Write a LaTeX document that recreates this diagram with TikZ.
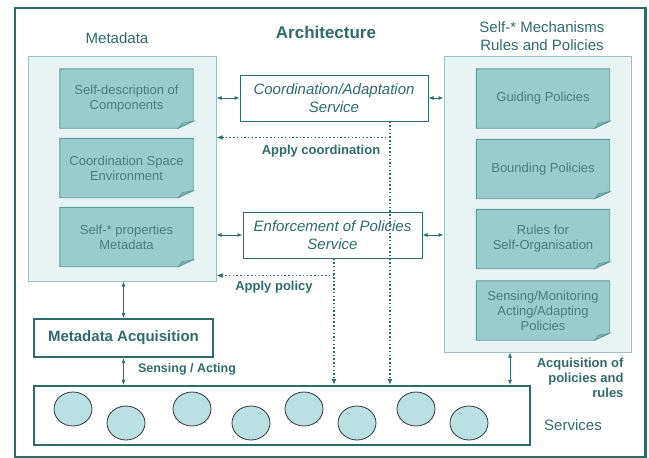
\documentclass[tikz,border=0pt]{standalone}
\usepackage{fontspec}
\setmainfont{Liberation Sans}
\usepackage{xcolor}
\usepackage{tikz}
\usetikzlibrary{arrows.meta}
\usetikzlibrary{calc}

\definecolor{tealdark}{HTML}{2E6B6B}
\definecolor{panelfill}{HTML}{E8F4F4}
\definecolor{panelline}{HTML}{9DC0C0}
\definecolor{notefill}{HTML}{99CCCC}
\definecolor{noteline}{HTML}{5E9A9A}
\definecolor{notefold}{HTML}{7FB0B0}
\definecolor{notetext}{HTML}{4B7E7E}
\definecolor{servfill}{HTML}{B9E0E3}

\tikzset{
  panel/.style={draw=panelline,fill=panelfill,line width=1pt,inner sep=0pt},
  notebox/.style={minimum width=133pt,minimum height=59pt,inner sep=0pt},
  notelabel/.style={text=notetext,align=center,font=\fontsize{13}{15}\selectfont},
  title/.style={text=tealdark,align=center,font=\fontsize{15}{18}\selectfont},
  servicebox/.style={draw=tealdark,fill=white,line width=1pt,inner sep=0pt,align=center,
    text=tealdark,font=\fontsize{15}{18}\selectfont\itshape},
  thickbox/.style={draw=tealdark,line width=2.2pt,inner sep=0pt},
  boldlabel/.style={text=tealdark,font=\fontsize{13}{15}\selectfont\bfseries},
  link/.style={tealdark,line width=0.8pt,{Latex[length=5pt,width=4pt]}-{Latex[length=5pt,width=4pt]}},
  apply/.style={tealdark,line width=1.7pt,dash pattern=on 1.5pt off 2.2pt,-{Latex[length=6pt,width=5pt]}},
  bubble/.style={draw=black!80,fill=servfill,line width=0.8pt}
}

% sheet with a dog-eared bottom right corner
\newcommand{\sheet}[3]{%
  \node[notebox] (#1) at (#2) {};
  \draw[noteline,fill=notefill,line width=0.9pt] (#1.north west) -- (#1.north east)
    -- ([yshift=7pt]#1.south east) -- ([xshift=-15pt]#1.south east) -- (#1.south west) -- cycle;
  \draw[noteline,fill=notefold,line width=0.6pt] ([yshift=7pt]#1.south east)
    -- ([xshift=-15pt]#1.south east) -- ([xshift=-11pt,yshift=5pt]#1.south east) -- cycle;
  \node[notelabel] at (#1.center) {#3};
}

\begin{document}
\begin{tikzpicture}[x=1pt,y=-1pt]
  \useasboundingbox (0,0) rectangle (649,458);
  \draw[tealdark,line width=2.5pt] (15,8) rectangle (645.5,457);

  \node[title,font=\fontsize{17}{20}\selectfont\bfseries] (arch) at (326,32) {Architecture};
  \node[title] (metatitle) at (117,38) {Metadata};
  \node[title] (mechtitle) at (542,36) {Self-* Mechanisms\\Rules and Policies};

  % the two store panels
  \node[panel,minimum width=188pt,minimum height=225pt] (meta) at (122,168.5) {};
  \node[panel,minimum width=187pt,minimum height=296pt] (mech) at (537.5,204) {};

  \sheet{sd}{126.5,98.5}{Self-description of\\Components}
  \sheet{cs}{126.5,168}{Coordination Space\\Environment}
  \sheet{sp}{126.5,237}{Self-* properties\\Metadata}

  \sheet{gp}{543,98.5}{Guiding Policies}
  \sheet{bp}{543,169}{Bounding Policies}
  \sheet{rs}{543,239}{Rules for\\Self-Organisation}
  \sheet{sm}{543,310.5}{Sensing/Monitoring\\Acting/Adapting\\Policies}

  \node[servicebox,minimum width=188pt,minimum height=46pt] (coord) at (334,98) {Coordination/Adaptation\\Service};
  \node[servicebox,minimum width=179pt,minimum height=46pt] (enf) at (332.5,235) {Enforcement of Policies\\Service};

  \node[thickbox,minimum width=179pt,minimum height=38pt,boldlabel,font=\fontsize{15}{18}\selectfont\bfseries] (acq) at (123.5,338) {Metadata Acquisition};
  \node[thickbox,minimum width=496pt,minimum height=59pt] (serv) at (282,415.5) {};

  \foreach \cx/\cy in {73/409,126/423,192/409,251/423,304/409,357/423,416/409,469/423}
    \draw[bubble] (\cx,\cy) ellipse (19 and 17);

  \node[title] (servtitle) at (573,425) {Services};

  % solid links
  \draw[link] (coord.west -| meta.east) -- (coord.west);
  \draw[link] (coord.east) -- (coord.east -| mech.west);
  \draw[link] (enf.west -| meta.east) -- (enf.west);
  \draw[link] (enf.east) -- (enf.east -| mech.west);
  \draw[link] (acq.north |- meta.south) -- (acq.north);
  \draw[link] (acq.south) -- (acq.south |- serv.north);
  \draw[link] ([xshift=-27.5pt]mech.south) -- ([xshift=-27.5pt]mech.south |- serv.north);

  % dotted control flow
  \draw[apply] ([xshift=56pt]coord.south) -- ([xshift=56pt]coord.south |- serv.north);
  \coordinate (c1) at ($([xshift=56pt]coord.south)+(0,16)$);
  \draw[apply] (c1) -- (c1 -| meta.east);
  \draw[apply] ([xshift=1.5pt]enf.south) -- ([xshift=1.5pt]enf.south |- serv.north);
  \coordinate (c2) at ($([xshift=1.5pt]enf.south)+(0,17)$);
  \draw[apply] (c2) -- (c2 -| meta.east);

  \node[boldlabel] (lc) at (321,151) {Apply coordination};
  \node[boldlabel] (lp) at (274,287) {Apply policy};
  \node[boldlabel,font=\fontsize{12.5}{15}\selectfont\bfseries] (ls) at (187,369) {Sensing / Acting};
  \node[boldlabel,align=right,anchor=east] (lq) at (627,378) {Acquisition of\\policies and\\rules};
\end{tikzpicture}
\end{document}
